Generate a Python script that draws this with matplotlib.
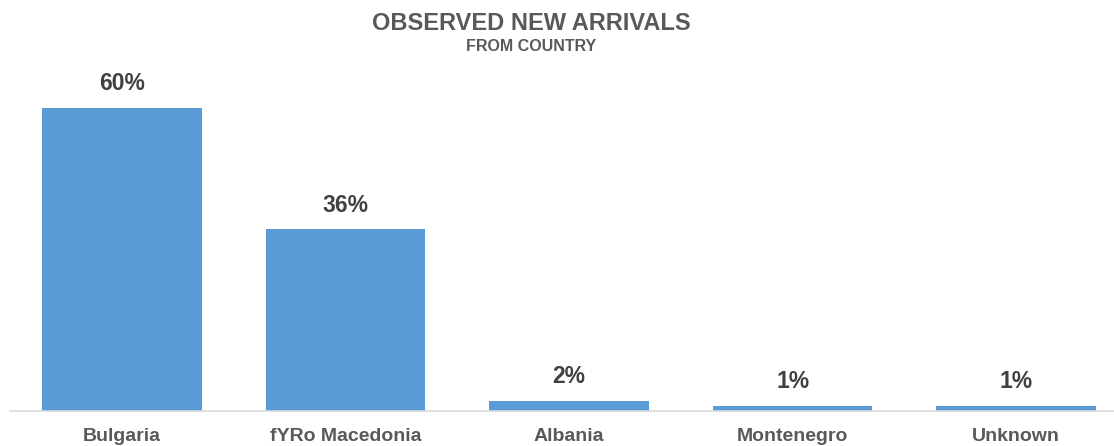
"""Observed new arrivals by country of origin."""

import matplotlib
matplotlib.use("Agg")
import matplotlib.pyplot as plt

countries = ["Bulgaria", "fYRo Macedonia", "Albania", "Montenegro", "Unknown"]
shares = [60, 36, 2, 1, 1]          # bar heights (%)
share_labels = ["60%", "36%", "2%", "1%", "1%"]

plt.rcParams["font.family"] = ["Liberation Sans", "DejaVu Sans"]

W, H = 1114, 446
fig = plt.figure(figsize=(W / 100, H / 100), dpi=100)

# axes placed in pixel terms: baseline at y=411, spans x 10..1114
ax = fig.add_axes([10 / W, (H - 411) / H, 1104 / W, 353.5 / H])

bar_color = "#5B9BD5"
x = range(len(countries))
bars = ax.bar(x, shares, width=0.714, color=bar_color, zorder=2)

for rect, lab in zip(bars, share_labels):
    ax.annotate(lab, (rect.get_x() + rect.get_width() / 2, rect.get_height()),
                xytext=(0, 9), textcoords="offset points",
                ha="center", va="bottom", fontsize=16.5, fontweight="bold",
                color="#404040")

ax.set_xlim(-0.5, 4.5 - 14 / 224)
ax.set_ylim(0, 70)
ax.set_xticks(list(x))
ax.set_xticklabels(countries, fontsize=14, fontweight="bold", color="#595959")
ax.tick_params(axis="x", length=0, pad=12)
ax.set_yticks([])

for s in ["top", "right", "left"]:
    ax.spines[s].set_visible(False)
ax.spines["bottom"].set_color("#D9D9D9")
ax.spines["bottom"].set_linewidth(1.2)

fig.text(531 / W, 1 - 23.5 / H, "OBSERVED NEW ARRIVALS", ha="center", va="center",
         fontsize=17, fontweight="bold", color="#595959")
fig.text(531 / W, 1 - 46.5 / H, "FROM COUNTRY", ha="center", va="center",
         fontsize=11.5, fontweight="bold", color="#595959")

fig.savefig("out.png", dpi=100)
